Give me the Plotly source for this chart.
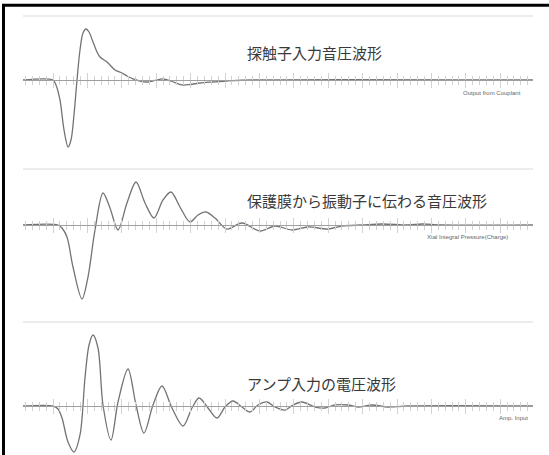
import plotly.graph_objects as go

# ---------------- data (time in major-tick units, normalised amplitude) -------------
titles = ["探触子入力音圧波形", "保護膜から振動子に伝わる音圧波形", "アンプ入力の電圧波形"]
labels = ["Output from Couplant", "Xtal Integral Pressure(Charge)", "Amp. Input"]

t1 = [-0.872, 0.0, 0.087, 0.203, 0.32, 0.436, 0.523, 0.61, 0.698, 0.785, 0.872, 0.959, 1.047,
      1.163, 1.279, 1.366, 1.57, 1.802, 2.006, 2.151, 2.326, 2.529, 2.733, 2.965, 3.198, 3.459,
      3.75, 3.983, 4.273, 4.651, 5.058, 5.814, 13.953]
a1 = [0, 0, -0.083, -0.333, -0.833, -1.117, -1.0, -0.583, 0.0, 0.5, 0.783, 0.85, 0.8,
      0.633, 0.467, 0.383, 0.3, 0.167, 0.117, 0.067, 0.017, -0.017, -0.033, -0.008, 0.017, -0.025,
      -0.083, -0.075, -0.05, -0.033, -0.017, 0.0, 0.0]

t2 = [-0.872, 0.145, 0.262, 0.407, 0.581, 0.843, 1.017, 1.221, 1.453, 1.657, 1.89, 2.151, 2.413,
      2.674, 2.936, 3.198, 3.43, 3.692, 3.983, 4.215, 4.448, 4.709, 5.058, 5.494, 6.017, 6.453,
      6.948, 7.413, 7.994, 8.401, 8.983, 9.564, 10.32, 10.727, 11.308, 13.953]
a2 = [0, 0, -0.05, -0.2, -0.7, -1.233, -0.867, -0.083, 0.533, 0.283, -0.083, 0.367, 0.717,
      0.367, 0.117, 0.417, 0.55, 0.3, 0.05, 0.167, 0.217, 0.117, -0.067, 0.033, -0.1, -0.017,
      -0.083, -0.033, -0.067, -0.017, 0.0, 0.017, 0.0, 0.017, 0.0, 0.0]

t3 = [-0.872, 0.0, 0.145, 0.262, 0.436, 0.61, 0.785, 0.93, 1.047, 1.163, 1.308, 1.453, 1.686,
      1.89, 2.18, 2.413, 2.645, 2.907, 3.169, 3.459, 3.779, 4.041, 4.244, 4.506, 4.767, 5.0,
      5.233, 5.494, 5.727, 5.959, 6.221, 6.453, 6.744, 6.977, 7.238, 7.616, 7.907, 8.198,
      8.576, 8.866, 9.273, 9.738, 10.32, 13.953]
a3 = [0, 0, -0.05, -0.2, -0.6, -0.767, -0.483, 0.467, 1.017, 1.183, 0.967, 0.017, -0.567,
      0.067, 0.617, 0.017, -0.45, 0.017, 0.333, -0.033, -0.333, -0.033, 0.133, -0.033, -0.2, -0.017,
      0.083, -0.017, -0.1, 0.017, 0.067, -0.017, -0.067, 0.017, 0.067, -0.017, -0.033, 0.017,
      0.017, -0.017, 0.017, -0.017, 0.0, 0.0]

series = [(t1, a1), (t2, a2), (t3, a3)]

# ---------------- layout (pixels) -----------------------------------------------------
W, H = 549, 455
X0, X1 = 23, 533                 # plot area left/right
PX_PER_T, T0_PX = 34.4, 53       # x scale
PX_PER_A = 60                    # y scale
panels = [  # top, bottom, baseline, title y, label right x, label y
    dict(top=16, bot=160, base=80, ty=52, lx=523, ly=93),
    dict(top=169, bot=313, base=225, ty=200, lx=510, ly=237),
    dict(top=322, bot=455, base=406, ty=383, lx=530, ly=418),
]

def fx(px):
    return px / W

def fy(py):
    return 1 - py / H

tmin = (X0 - T0_PX) / PX_PER_T
tmax = (X1 - T0_PX) / PX_PER_T

fig = go.Figure()
layout = dict(width=W, height=H, margin=dict(l=0, r=0, t=0, b=0),
              paper_bgcolor="white", plot_bgcolor="white", showlegend=False)
shapes, annotations = [], []

WAVE = "#737373"
AXIS = "#a0a0a0"
TICK = "#d2d2d2"

for i, (p, (tt, aa)) in enumerate(zip(panels, series)):
    k = i + 1
    xa, xb = 2 * k - 1, 2 * k
    xa_name = "x" if xa == 1 else f"x{xa}"
    xb_name = f"x{xb}"
    y_name = "y" if k == 1 else f"y{k}"
    ymax = (p["base"] - p["top"]) / PX_PER_A
    ymin = -(p["bot"] - p["base"]) / PX_PER_A
    pos = fy(p["base"])

    common = dict(domain=[fx(X0), fx(X1)], range=[tmin, tmax], anchor="free", position=pos,
                  showgrid=False, zeroline=False, showticklabels=False,
                  tickmode="linear", tick0=0, dtick=1, ticklen=7, tickcolor=TICK, tickwidth=1,
                  minor=dict(tickmode="linear", tick0=0, dtick=0.2, ticklen=4,
                             tickcolor=TICK, tickwidth=1, ticks="outside", showgrid=False),
                  fixedrange=True)
    layout[f"xaxis{xa}" if xa > 1 else "xaxis"] = dict(common, ticks="outside", side="bottom",
                                                       showline=True, linecolor=AXIS, linewidth=1)
    layout[f"xaxis{xb}"] = dict(common, ticks="outside", side="top", overlaying=xa_name,
                                showline=False)
    layout[f"yaxis{k}" if k > 1 else "yaxis"] = dict(domain=[fy(p["bot"]), fy(p["top"])],
                                                     range=[ymin, ymax], visible=False,
                                                     fixedrange=True)

    fig.add_trace(go.Scatter(x=tt, y=aa, mode="lines", xaxis=xa_name, yaxis=y_name,
                             line=dict(color=WAVE, width=1.3, shape="spline", smoothing=0.9),
                             hoverinfo="skip"))
    fig.add_trace(go.Scatter(x=[], y=[], mode="lines", xaxis=xb_name, yaxis=y_name,
                             hoverinfo="skip"))

    # faint separator at top of the panel
    shapes.append(dict(type="line", xref="paper", yref="paper", x0=fx(X0), x1=fx(X1),
                       y0=fy(p["top"]), y1=fy(p["top"]), line=dict(color="#ececec", width=2)))

    annotations.append(dict(text=titles[i], xref="paper", yref="paper", x=fx(245), y=fy(p["ty"]),
                            xanchor="left", yanchor="middle", showarrow=False,
                            font=dict(family="Noto Sans CJK JP", size=15, color="#3a3a3a")))
    annotations.append(dict(text=labels[i], xref="paper", yref="paper", x=fx(p["lx"]), y=fy(p["ly"]),
                            xanchor="right", yanchor="middle", showarrow=False,
                            font=dict(family="Liberation Sans", size=6, color="#666666")))

# black frame (left and top)
shapes.append(dict(type="line", xref="paper", yref="paper", x0=fx(3.5), x1=fx(3.5),
                   y0=fy(4), y1=0, line=dict(color="black", width=3)))
shapes.append(dict(type="line", xref="paper", yref="paper", x0=fx(2), x1=1,
                   y0=fy(5.2), y1=fy(5.2), line=dict(color="black", width=3)))

layout["shapes"] = shapes
layout["annotations"] = annotations
fig.update_layout(**layout)
fig.write_html("out.html", config={"displayModeBar": False, "staticPlot": True},
               post_script="document.body.style.margin='0';document.body.style.padding='0';")
